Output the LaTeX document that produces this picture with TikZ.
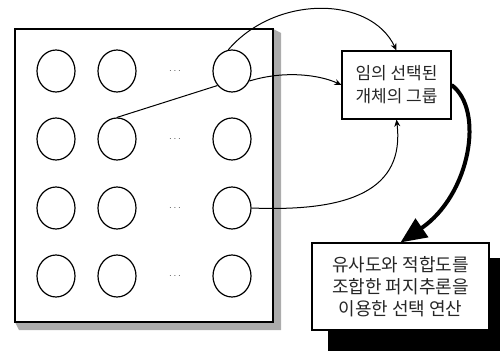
\documentclass[tikz,border=0pt]{standalone}
\usepackage{fontspec}
\newfontfamily\kr{Noto Sans CJK KR}
\usetikzlibrary{arrows.meta,shapes.geometric}
\begin{document}
\begin{tikzpicture}[x=1pt,y=-1pt,
  circ/.style={draw, line width=1.2pt, ellipse, minimum width=38pt, minimum height=42pt, inner sep=0pt},
  dotsn/.style={text=black!70, font=\fontsize{10}{10}\selectfont, inner sep=0pt},
  box/.style={draw, line width=1.1pt, fill=white, align=center, text=black!85, inner sep=0pt},
  conn/.style={line width=1pt},
  arr/.style={conn, -{Stealth[length=7pt,width=6pt]}},
  bigarr/.style={line width=4pt, -{Triangle[length=26pt,width=22pt]}}
]
\useasboundingbox (0,0) rectangle (500,351);
% board
\fill[gray!65] (273,29) -- (281,33) -- (281,330) -- (19,330) -- (15,322) -- (273,322) -- cycle;
\draw[line width=1.1pt, fill=white] (15,29) rectangle (273,322);
% circles
\foreach \r/\y in {1/71,2/139,3/208,4/276}{
  \node[circ] (c\r1) at (56,\y) {};
  \node[circ] (c\r2) at (117,\y) {};
  \node[circ] (c\r3) at (232,\y) {};
  \node[dotsn] (d\r) at (175,\y) {$\cdots$};
}
% boxes
\fill (328,258) rectangle (500,351);
\node[box, font=\kr\fontsize{17}{23}\selectfont, minimum width=109pt, minimum height=68pt] (b1) at (396.5,85) {임의 선택된\\개체의 그룹};
\node[box, font=\kr\fontsize{18}{22}\selectfont, minimum width=177pt, minimum height=87pt] (b2) at (400.5,286.5) {유사도와 적합도를\\조합한 퍼지추론을\\이용한 선택 연산};
% connectors
\draw[conn] (c22.north) -- (c13.225);
\draw[arr] (c13.100) .. controls (275,-5) and (370,-5) .. (b1.north);
\draw[arr] (c13.-30) .. controls (285,70) and (320,75) .. (b1.west);
\draw[arr] (c33.east) .. controls (350,212) and (405,190) .. (b1.south);
\draw[bigarr] (b1.east) .. controls (485,110) and (470,195) .. (b2.north);
\end{tikzpicture}
\end{document}
